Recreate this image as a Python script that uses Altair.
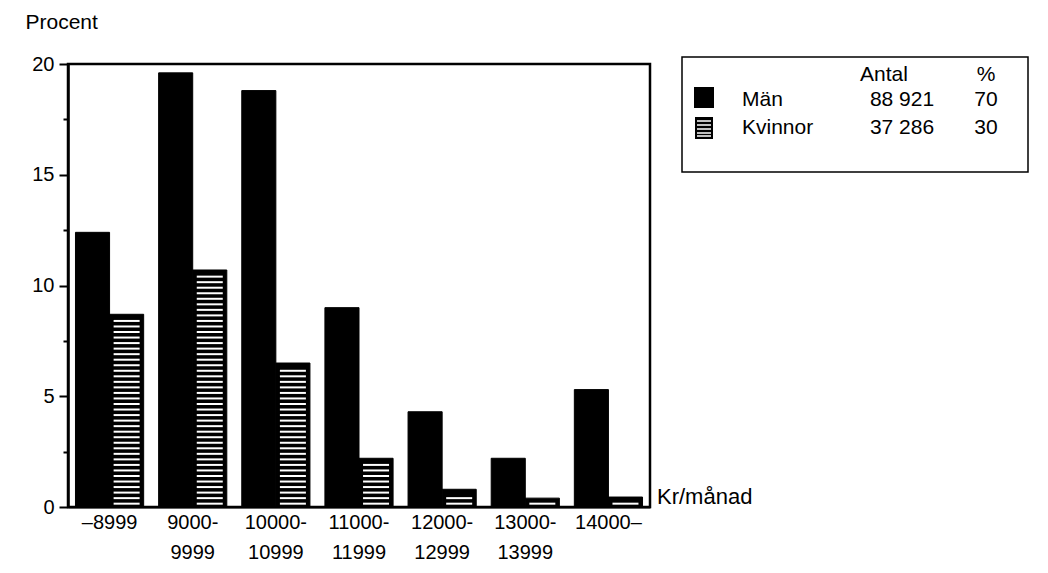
import altair as alt
import pandas as pd

categories = ["–8999", "9000-|9999", "10000-|10999", "11000-|11999",
              "12000-|12999", "13000-|13999", "14000–"]
series = ["Män", "Kvinnor"]
man = [12.4, 19.6, 18.8, 9.0, 4.3, 2.2, 5.3]
kvinnor = [8.7, 10.7, 6.5, 2.2, 0.8, 0.4, 0.45]

legend_names = ["Män", "Kvinnor"]
legend_antal = ["88 921", "37 286"]
legend_pct = ["70", "30"]

FONT = "Liberation Sans"
FS = 20

rows = []
for c, v in zip(categories, man):
    rows.append({"cat": c, "serie": "Män", "val": v})
for c, v in zip(categories, kvinnor):
    rows.append({"cat": c, "serie": "Kvinnor", "val": v})
df = pd.DataFrame(rows)

# white stripes inside the Kvinnor bars (hatching), derived from the bar heights
stripes = []
for c, v in zip(categories, kvinnor):
    lvl = 0.15
    while lvl <= v - 0.2:
        stripes.append({"cat": c, "serie": "Kvinnor", "val": lvl})
        lvl += 0.25
sdf = pd.DataFrame(stripes)

xenc = alt.X("cat:N", sort=categories, title=None,
             scale=alt.Scale(paddingInner=0.18, paddingOuter=0.09),
             axis=alt.Axis(labelExpr="split(datum.label, '|')", labelAngle=0,
                           labelFontSize=FS, labelColor="black", labelFont=FONT,
                           labelLineHeight=30, labelPadding=5, ticks=False,
                           domainColor="black", domainWidth=2))
xoff = alt.XOffset("serie:N", sort=series,
                   scale=alt.Scale(paddingInner=0, paddingOuter=0))
yenc = alt.Y("val:Q", scale=alt.Scale(domain=[0, 20], nice=False),
             axis=alt.Axis(values=[0, 2.5, 5, 7.5, 10, 12.5, 15, 17.5, 20],
                           format="d",
                           labelExpr="datum.value % 5 === 0 ? datum.label : ''",
                           labelOverlap=False,
                           tickSize={"condition": {"test": "datum.value % 5 === 0", "value": 9}, "value": 5},
                           tickWidth=2, tickColor="black",
                           domainColor="black", domainWidth=2.5,
                           labelFontSize=FS, labelColor="black", labelFont=FONT,
                           labelPadding=5, grid=False,
                           title="Procent", titleAngle=0, titleAlign="left",
                           titleBaseline="middle", titleX=-43, titleY=-42,
                           titleFontSize=FS + 1, titleFontWeight="normal",
                           titleColor="black", titleFont=FONT))

bars = alt.Chart(df).mark_bar(color="black", stroke="black", strokeWidth=1).encode(
    x=xenc, xOffset=xoff, y=yenc)

hatch = alt.Chart(sdf).mark_tick(orient="horizontal", color="white", thickness=2,
                                 size=26, opacity=1).encode(
    x=alt.X("cat:N", sort=categories), xOffset=alt.XOffset("serie:N", sort=series),
    y=alt.Y("val:Q"))

one = pd.DataFrame({"a": [0]})

krtext = alt.Chart(one).mark_text(text="Kr/månad", align="left", baseline="middle",
                                  font=FONT, fontSize=FS + 2, color="black").encode(
    x=alt.value(589), y=alt.value(433))

legbox = alt.Chart(one).mark_rect(fill="white", stroke="black", strokeWidth=1.5).encode(
    x=alt.value(614), x2=alt.value(960), y=alt.value(-7), y2=alt.value(108))

sq_man = alt.Chart(one).mark_rect(color="black").encode(
    x=alt.value(626), x2=alt.value(646), y=alt.value(23), y2=alt.value(44))
sq_kv = alt.Chart(one).mark_rect(color="black").encode(
    x=alt.value(627), x2=alt.value(645), y=alt.value(53), y2=alt.value(75))

leg_stripes = []
for yy in [57, 61, 65, 69, 72]:
    leg_stripes.append(alt.Chart(one).mark_rule(color="white", strokeWidth=1.5).encode(
        x=alt.value(629), x2=alt.value(643), y=alt.value(yy)))

def txt(t, x, y, align="left"):
    return alt.Chart(one).mark_text(text=t, align=align, baseline="middle",
                                    font=FONT, fontSize=FS + 1, color="black").encode(
        x=alt.value(x), y=alt.value(y))

leg_texts = [txt("Antal", 816, 11, "center"), txt("%", 918, 11, "center")]
for i, (n, a, p) in enumerate(zip(legend_names, legend_antal, legend_pct)):
    yy = 36 + i * 28
    leg_texts.append(txt(n, 674, yy))
    leg_texts.append(txt(a, 834, yy, "center"))
    leg_texts.append(txt(p, 918, yy, "center"))

chart = alt.layer(bars, hatch, krtext, legbox, sq_man, sq_kv, *leg_stripes, *leg_texts).properties(
    width=582, height=443,
    autosize=alt.AutoSizeParams(type="none"),
    padding={"left": 60, "top": 56, "right": 390, "bottom": 58},
).configure(font=FONT, background="white").configure_view(stroke="black", strokeWidth=2.5)

chart.save("out.html", embed_options={"renderer": "svg", "actions": False})
